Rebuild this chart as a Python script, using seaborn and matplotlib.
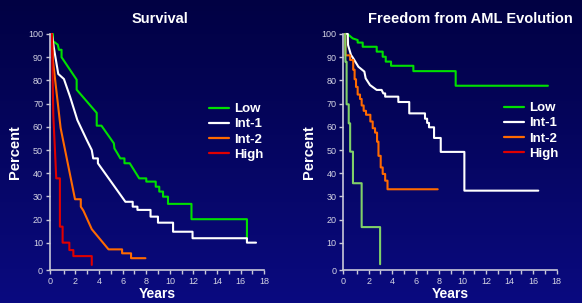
import numpy as np
import matplotlib
matplotlib.use('Agg')
import matplotlib.pyplot as plt
from matplotlib.colors import LinearSegmentedColormap
from matplotlib.lines import Line2D
import seaborn as sns

# ---- data (years, percent) ----
surv_low_t = [0, 0.09, 0.09, 0.5, 0.6, 0.82, 0.82, 2.1, 2.1, 3.8, 3.8, 4.2, 5.25, 5.3, 5.55, 5.8, 6.15, 6.15,
              6.6, 7.4, 8.0, 8.0, 8.8, 8.8, 9.1, 9.1, 9.42, 9.42, 9.84, 9.84, 11.83, 11.83, 16.53, 16.53]
surv_low_p = [100, 100, 97, 95.4, 93.2, 93.2, 90, 80.3, 76, 66, 60.5, 60.5, 52.9, 50.7, 48.6, 46.4, 46.4, 44.3,
              44.3, 37.8, 37.8, 36.4, 36.4, 34.2, 34.2, 32.1, 32.1, 29.9, 29.9, 26.8, 26.8, 20.2, 20.2, 10.9]

surv_int1_t = [0, 0.17, 0.54, 1.02, 1.54, 2.16, 2.96, 3.38, 3.5, 3.9, 3.9, 6.23, 6.85, 6.85, 7.25, 7.25, 8.36,
               8.36, 8.99, 8.99, 10.27, 10.27, 11.92, 11.92, 16.53, 16.53, 17.3]
surv_int1_p = [100, 94, 82.8, 80.6, 73, 62.9, 54.3, 50, 46.4, 46.4, 44.3, 27.7, 27.7, 25.6, 25.6, 24.2, 24.2,
               21.3, 21.3, 18.7, 18.7, 14.8, 14.8, 12, 12, 10.1, 10.1]

surv_int2_t = [0, 0.1, 0.26, 0.74, 1.96, 2.45, 2.45, 2.67, 3.38, 4.8, 5.95, 5.95, 6.71, 6.71, 7.93]
surv_int2_p = [100, 88, 81, 59.5, 28.8, 28.8, 25.6, 23.9, 15.9, 7.2, 7.2, 5.5, 5.5, 3.4, 3.4]

surv_high_t = [0, 0.12, 0.26, 0.37, 0.68, 0.68, 0.91, 0.91, 1.48, 1.48, 1.82, 1.82, 3.38, 3.38]
surv_high_p = [100, 65, 50, 37.8, 37.8, 17, 17, 10.1, 10.1, 6.9, 6.9, 4.3, 4.3, 0.5]

aml_low_t = [0, 0.2, 0.64, 1.06, 1.06, 1.49, 1.49, 2.68, 2.68, 3.19, 3.19, 3.45, 3.45, 3.9, 3.9, 5.8, 5.8,
             9.4, 9.4, 17.25]
aml_low_p = [100, 100, 98.1, 97.4, 96.3, 96.3, 94.5, 94.5, 92.4, 92.4, 90.2, 90.2, 88.1, 88.1, 86.3, 86.3, 84,
             84, 77.7, 77.7]

aml_int1_t = [0, 0.22, 0.24, 0.49, 0.69, 1.12, 1.63, 1.74, 2.11, 2.68, 3.1, 3.24, 3.4, 3.4, 4.52, 4.52, 5.45,
              5.45, 6.79, 6.79, 6.97, 6.97, 7.13, 7.13, 7.56, 7.56, 8.13, 8.13, 10.14, 10.14, 16.43]
aml_int1_p = [100, 100, 95.3, 91, 89.5, 85.9, 83.8, 80.9, 78, 75.9, 75.9, 74.4, 74.4, 73, 73, 70.7, 70.7,
              65.8, 65.8, 63.5, 63.5, 61.7, 61.7, 59.8, 59.8, 55.2, 55.2, 49.2, 49.2, 32.5, 32.5]

aml_int2_t = [0, 0.03, 0.42, 0.42, 0.68, 0.68, 0.8, 0.8, 0.92, 0.92, 1.06, 1.06, 1.26, 1.26, 1.4, 1.4, 1.57,
              1.57, 1.77, 1.77, 2.14, 2.14, 2.34, 2.34, 2.54, 2.54, 2.71, 2.71, 2.83, 2.83, 3.02, 3.02, 3.19,
              3.19, 3.4, 3.4, 3.6, 3.6, 7.87]
aml_int2_p = [100, 90.8, 90.8, 88.8, 88.8, 84.6, 84.6, 80.5, 80.5, 77.2, 77.2, 73.9, 73.9, 72, 72, 69.2, 69.2,
              66.9, 66.9, 65.2, 65.2, 62.3, 62.3, 59.4, 59.4, 57.5, 57.5, 53.6, 53.6, 47.5, 47.5, 42.5, 42.5,
              39.7, 39.7, 36.8, 36.8, 33.1, 33.1]

aml_high_t = [0, 0.02, 0.12, 0.12, 0.3, 0.3, 0.42, 0.42, 0.66, 0.66, 1.4, 1.4, 2.97, 2.97]
aml_high_p = [100, 88, 88, 69.7, 69.7, 61.5, 61.5, 49.3, 49.3, 35.7, 35.7, 16.8, 16.8, 0.8]

groups = ['Low', 'Int-1', 'Int-2', 'High']
group_colors = ['#00e000', '#ffffff', '#ff6a00', '#e00000']
aml_high_color = '#80d068'

x_tick_labels = ['0', '2', '4', '6', '8', '10', '12', '14', '16', '18']
y_tick_labels = ['0', '10', '20', '30', '40', '50', '60', '70', '80', '90', '100']

AXIS_COL = '#c8c8d8'
X_LO, Y_LO = -0.16, -1.9

sns.set_style('ticks')
plt.rcParams['font.family'] = ['Liberation Sans', 'DejaVu Sans']

fig = plt.figure(figsize=(5.82, 3.03), dpi=100)

# background gradient
bg = fig.add_axes([0, 0, 1, 1], zorder=-10)
cmap = LinearSegmentedColormap.from_list('bg', ['#010143', '#0a0a80'])
bg.imshow(np.linspace(0, 1, 256)[:, None], aspect='auto', cmap=cmap, extent=[0, 1, 0, 1])
bg.axis('off')

ax1 = fig.add_axes([0.0859, 0.1073, 0.3682, 0.7805])
ax2 = fig.add_axes([0.5899, 0.1073, 0.3667, 0.7805])


def style_axes(ax, title, title_x, leg_xy):
    ax.set_facecolor('none')
    ax.set_xlim(X_LO, 18)
    ax.set_ylim(Y_LO, 100)
    ax.set_xticks([X_LO] + list(range(2, 19, 2)))
    ax.set_xticklabels(x_tick_labels)
    ax.set_xticks(range(1, 18, 2), minor=True)
    ax.set_yticks([Y_LO] + list(range(10, 101, 10)))
    ax.set_yticklabels(y_tick_labels)
    for s in ['top', 'right']:
        ax.spines[s].set_visible(False)
    for s in ['left', 'bottom']:
        ax.spines[s].set_color(AXIS_COL)
        ax.spines[s].set_linewidth(1.2)
    ax.tick_params(which='both', direction='out', length=3, width=1, color=AXIS_COL,
                   labelcolor='#d4d4e4', labelsize=6.5, pad=2)
    ax.set_xlabel('Years', fontsize=10, fontweight='bold', color='white', labelpad=0.5)
    ax.set_ylabel('Percent', fontsize=10.5, fontweight='bold', color='white', labelpad=4)
    ax.set_title(title, fontsize=10.5, fontweight='bold', color='white', x=title_x, pad=8)
    handles = [Line2D([], [], color=c, lw=1.6) for c in group_colors]
    leg = ax.legend(handles, groups, loc='upper left', bbox_to_anchor=leg_xy, frameon=False,
                    handlelength=1.5, handletextpad=0.4, labelspacing=0.22, borderaxespad=0,
                    borderpad=0, prop=dict(weight='bold', size=9.5))
    for t in leg.get_texts():
        t.set_color('white')


def draw(ax, t, p, color):
    sns.lineplot(x=t, y=p, sort=False, estimator=None, color=color, lw=1.5, ax=ax,
                 legend=False, clip_on=False)


draw(ax1, surv_low_t, surv_low_p, group_colors[0])
draw(ax1, surv_int1_t, surv_int1_p, group_colors[1])
draw(ax1, surv_int2_t, surv_int2_p, group_colors[2])
draw(ax1, surv_high_t, surv_high_p, group_colors[3])

draw(ax2, aml_low_t, aml_low_p, group_colors[0])
draw(ax2, aml_int1_t, aml_int1_p, group_colors[1])
draw(ax2, aml_int2_t, aml_int2_p, group_colors[2])
draw(ax2, aml_high_t, aml_high_p, aml_high_color)

style_axes(ax1, 'Survival', 0.512, (0.742, 0.708))
style_axes(ax2, 'Freedom from AML Evolution', 0.593, (0.753, 0.712))

fig.savefig('out.png', dpi=100)
